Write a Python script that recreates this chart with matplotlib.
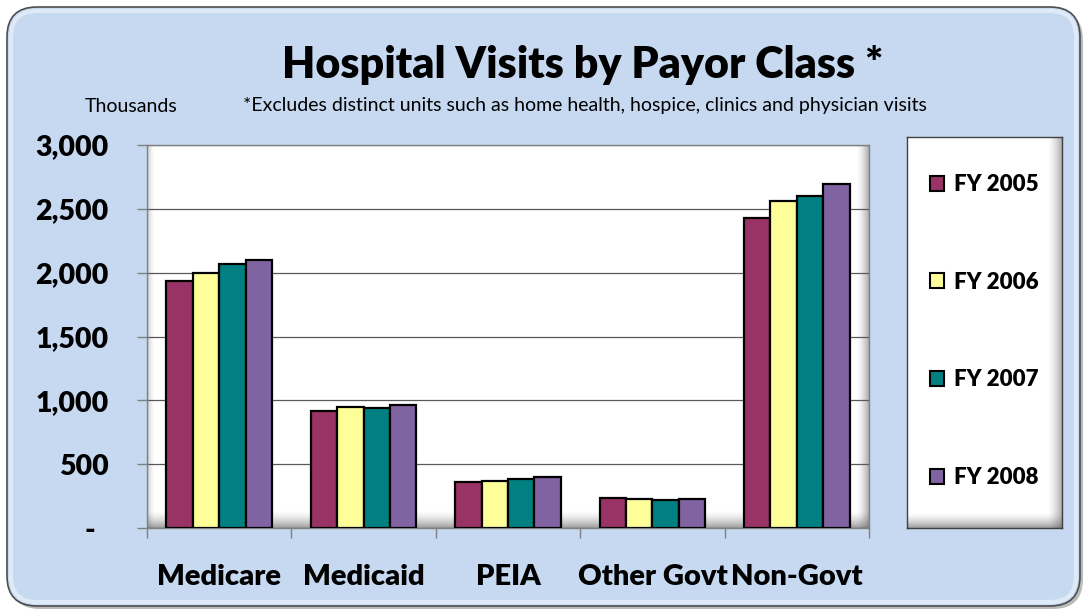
import numpy as np
import matplotlib
matplotlib.use('Agg')
import matplotlib.pyplot as plt
from matplotlib.patches import FancyBboxPatch, Patch
from matplotlib.transforms import ScaledTranslation

plt.rcParams['font.family'] = ['Lato', 'DejaVu Sans']

# data (thousands of visits)
categories = ["Medicare", "Medicaid", "PEIA", "Other Govt", "Non-Govt"]
years = ["FY 2005", "FY 2006", "FY 2007", "FY 2008"]
fy2005 = [1932, 916, 358, 235, 2430]
fy2006 = [2000, 947, 365, 225, 2563]
fy2007 = [2065, 937, 381, 222, 2597]
fy2008 = [2097, 965, 399, 225, 2691]
series = [fy2005, fy2006, fy2007, fy2008]
colors = ["#993366", "#FFFF99", "#008080", "#8064A2"]
yticks = [0, 500, 1000, 1500, 2000, 2500, 3000]
ytick_labels = ["-", "500", "1,000", "1,500", "2,000", "2,500", "3,000"]

W, H = 1085, 612
fig = plt.figure(figsize=(W / 100, H / 100), dpi=100)
fig.patch.set_facecolor("white")
inch = fig.dpi_scale_trans
heavy = "heavy"


def px(x0, y0, x1, y1):
    # pixel box (top-left origin) -> figure fraction rect
    return [x0 / W, 1 - y1 / H, (x1 - x0) / W, (y1 - y0) / H]


# outer rounded panel with a little shadow
fig.patches.append(FancyBboxPatch((0.10, 0.03), 10.73, 5.99,
                                  boxstyle="round,pad=0,rounding_size=0.3",
                                  transform=inch, facecolor="#8c8c8c",
                                  edgecolor="none", alpha=0.6, zorder=0))
fig.patches.append(FancyBboxPatch((0.07, 0.06), 10.73, 5.99,
                                  boxstyle="round,pad=0,rounding_size=0.3",
                                  transform=inch, facecolor="#C6D9F1",
                                  edgecolor="#4d4d4d", lw=1.2, zorder=1))
fig.patches.append(FancyBboxPatch((0.11, 0.10), 10.65, 5.91,
                                  boxstyle="round,pad=0,rounding_size=0.26",
                                  transform=inch, facecolor="none",
                                  edgecolor="white", lw=3, alpha=0.45, zorder=1))


def shade(ax, extent, horizontal, reverse=False, dark=0.45):
    g = np.linspace(0, 1, 64)
    if reverse:
        g = g[::-1]
    img = g[None, :] if horizontal else g[:, None]
    rgba = np.zeros(img.shape + (4,))
    rgba[..., :3] = 0.35
    rgba[..., 3] = img ** 1.6 * dark
    ax.imshow(rgba, extent=extent, transform=ax.transAxes, aspect="auto",
              origin="lower", zorder=0.5, interpolation="bilinear")


def panel(rect, edge, lw):
    p = fig.add_axes(rect, zorder=2)
    p.set_facecolor("white")
    p.set_xticks([])
    p.set_yticks([])
    for s in p.spines.values():
        s.set_color(edge)
        s.set_linewidth(lw)
    return p


# plot area background with inner bevel shading
bg = panel(px(147, 145, 869, 528), "#808080", 0)
shade(bg, [0, 1, 0, 0.045], horizontal=False, reverse=True, dark=0.6)
shade(bg, [0.982, 1, 0, 1], horizontal=True, dark=0.5)
shade(bg, [0, 0.01, 0, 1], horizontal=True, reverse=True, dark=0.35)
bg.set_xlim(0, 1)
bg.set_ylim(0, 1)

ax = fig.add_axes(px(147, 145, 869, 528), zorder=3)
ax.patch.set_alpha(0)

x = np.arange(len(categories))
w = 0.73 / len(series)
for i, (vals, c, lab) in enumerate(zip(series, colors, years)):
    ax.bar(x + (i - 1.5) * w, vals, width=w, color=c, edgecolor="black",
           linewidth=1.6, label=lab, zorder=3)

ax.set_xlim(-0.5, len(categories) - 0.5)
ax.set_ylim(0, 3000)
ax.set_yticks(yticks)
ax.set_yticklabels(ytick_labels, fontsize=20.5, fontweight=heavy)
ax.yaxis.grid(True, color="#595959", linewidth=0.9, zorder=1)
ax.set_axisbelow(True)

ax.set_xticks(x)
ax.set_xticklabels(categories, fontsize=21, fontweight=heavy)
ax.set_xticks(np.arange(-0.5, len(categories)), minor=True)
ax.tick_params(axis="x", which="major", length=0, pad=26)
ax.tick_params(axis="x", which="minor", length=7, color="#808080", width=1)
ax.tick_params(axis="y", length=7.5, color="#808080", width=1, pad=20)
for s in ax.spines.values():
    s.set_color("#808080")
    s.set_linewidth(1)

# zero label sits left like an accounting format
zero_lab = ax.get_yticklabels()[0]
zero_lab.set_transform(zero_lab.get_transform() + ScaledTranslation(-14 / 100, 0, inch))

# legend panel
lg = panel(px(907, 137, 1062, 528), "#404040", 1)
shade(lg, [0, 1, 0, 0.04], horizontal=False, reverse=True, dark=0.6)
shade(lg, [0.9, 1, 0, 1], horizontal=True, dark=0.55)
lg.set_xlim(0, 1)
lg.set_ylim(0, 1)

handles = [Patch(facecolor=c, edgecolor="black", linewidth=1.5) for c in colors]
leg = fig.legend(handles, years, loc="center", bbox_to_anchor=(984.5 / W, 1 - 331 / H),
                 frameon=False, prop={"size": 16, "weight": heavy},
                 labelspacing=3.45, handlelength=0.65, handleheight=0.65,
                 handletextpad=0.45)
leg.set_zorder(5)

# titles
fig.text(583 / W, 1 - 78 / H, "Hospital Visits by Payor Class *", fontsize=31,
         fontweight=heavy, ha="center", va="baseline", zorder=6)
fig.text(585 / W, 1 - 111 / H,
         "*Excludes distinct units such as home health, hospice, clinics and physician visits",
         fontsize=14, ha="center", va="baseline", zorder=6)
fig.text(131 / W, 1 - 112 / H, "Thousands", fontsize=14, ha="center", va="baseline", zorder=6)

fig.savefig("out.png", dpi=100)
